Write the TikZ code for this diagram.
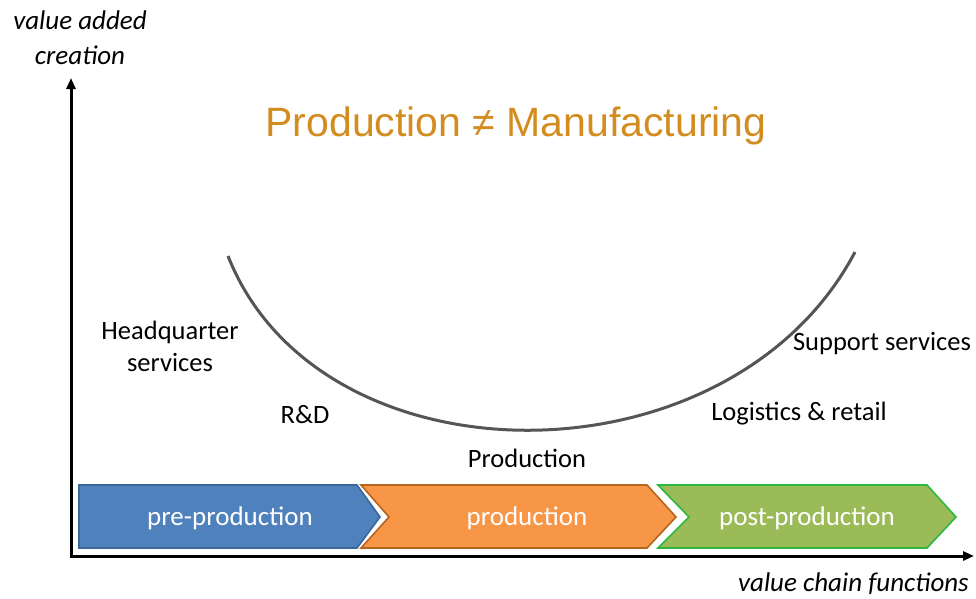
\documentclass[tikz,border=0pt]{standalone}
\usepackage{fontspec}
\setmainfont{Carlito}
\newfontfamily\titlefont{Liberation Sans}
\usetikzlibrary{arrows.meta}
\definecolor{bluefill}{HTML}{4F81BD}
\definecolor{blueedge}{HTML}{3B679A}
\definecolor{orfill}{HTML}{F79646}
\definecolor{oredge}{HTML}{B5651D}
\definecolor{grfill}{HTML}{9BBB59}
\definecolor{gredge}{HTML}{2DB83D}
\definecolor{titlecol}{HTML}{D38C1F}
\definecolor{curvecol}{HTML}{555555}
\tikzset{
  axis/.style={line width=3pt,-{Triangle[length=11pt,width=9pt]}},
  lbl/.style={font=\fontsize{26.5}{32}\selectfont,text=black,inner sep=0pt},
  axlbl/.style={font=\fontsize{27}{35}\selectfont\itshape,inner sep=0pt,align=center},
  chev/.style={line width=1.6pt,line join=miter},
  chevtxt/.style={font=\fontsize{27}{32}\selectfont,text=white,inner sep=0pt}
}
\begin{document}
\begin{tikzpicture}[x=1pt,y=-1pt]
\useasboundingbox (0,0) rectangle (976,598);
% axes
\coordinate (origin) at (71,556);
\coordinate (ytip) at (71,78);
\coordinate (xtip) at (974,556);
\draw[axis] (origin) -- (ytip);
\draw[axis] ([xshift=-1.5pt]origin) -- (xtip);
\node[axlbl] (ylab) at (80,38) {value added\\creation};
\node[axlbl,anchor=east] (xlab) at (969,584) {value chain functions};
% title
\node[inner sep=0pt,text=titlecol,anchor=base] (title) at (516,136) {\titlefont\fontsize{41}{46}\selectfont Production ≠ Manufacturing};
% curve
\coordinate (cL) at (228,256);
\coordinate (cR) at (855,252);
\draw[curvecol,line width=3pt] (cL) .. controls (320,489) and (730,489) .. (cR);
% labels
\node[lbl,align=center] (hq) at (170,346) {Headquarter\\services};
\node[lbl] (rd) at (305,415) {R\&D};
\node[lbl] (prod) at (527,458) {Production};
\node[lbl] (log) at (799,414) {Logistics \& retail};
\node[lbl] (sup) at (882,344) {Support services};
% chevrons
\draw[chev,fill=bluefill,draw=blueedge] (79,485) -- (357,485) -- (380,517) -- (357,548) -- (79,548) -- cycle;
\draw[chev,fill=orfill,draw=oredge] (361,485) -- (647,485) -- (676,517) -- (647,548) -- (361,548) -- (389,517) -- cycle;
\draw[chev,fill=grfill,draw=gredge] (658,485) -- (927,485) -- (956,517) -- (927,548) -- (658,548) -- (689,517) -- cycle;
\node[chevtxt] (t1) at (230,518) {pre-production};
\node[chevtxt] (t2) at (527,518) {production};
\node[chevtxt] (t3) at (807,518) {post-production};
\end{tikzpicture}
\end{document}
